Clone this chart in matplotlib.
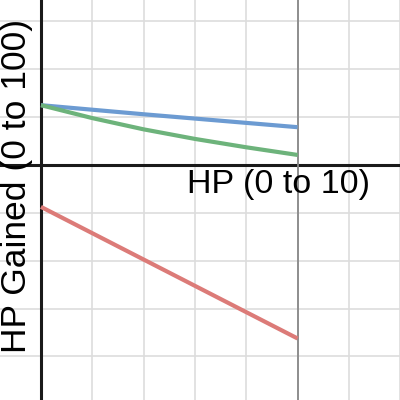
import matplotlib.pyplot as plt

# values (x in HP, y in grid units of 20)
x_vals = [0, 2, 4, 6, 8, 10]
blue_hp = [25.0, 23.1, 21.2, 19.4, 17.6, 15.8]
green_hp = [25.0, 19.6, 14.9, 10.9, 7.4, 4.2]
red_hp = [-17.5, -28.5, -39.5, -50.5, -61.5, -72.5]

x_ticks = [-2, 0, 2, 4, 6, 8, 10, 12, 14]
y_ticks = [-100, -80, -60, -40, -20, 0, 20, 40, 60]

fig = plt.figure(figsize=(4, 4), dpi=100)
ax = fig.add_axes([0, 0, 1, 1])
ax.set_xlim(-1.597, 13.99)
ax.set_ylim(-98.2, 68.95)

# grid
for t in x_ticks:
  ax.axvline(t, color='#dddddd', linewidth=1.2, zorder=0)
for t in y_ticks:
  ax.axhline(t, color='#dddddd', linewidth=1.2, zorder=0)

# axes
ax.axhline(0, color='#1a1a1a', linewidth=2.2, zorder=1)
ax.axvline(0, color='#1a1a1a', linewidth=2.2, zorder=1)
ax.axvline(10, color='#888888', linewidth=1.3, zorder=1)

for ys, c in [(blue_hp, '#6c9bd2'), (green_hp, '#6db37b'), (red_hp, '#dc7b78')]:
  ax.plot(x_vals, ys, color=c, linewidth=3, solid_capstyle='butt',
          solid_joinstyle='round', zorder=3)

ax.text(5.69, -11.7, 'HP (0 to 10)', fontsize=24.5, family='Liberation Sans',
        ha='left', va='baseline', zorder=4)
ax.text(-0.31, -78.6, 'HP Gained (0 to 100)', fontsize=25.5, family='Liberation Sans',
        rotation=90, ha='right', va='bottom', zorder=4)

ax.axis('off')
fig.savefig('out.png', dpi=100)
